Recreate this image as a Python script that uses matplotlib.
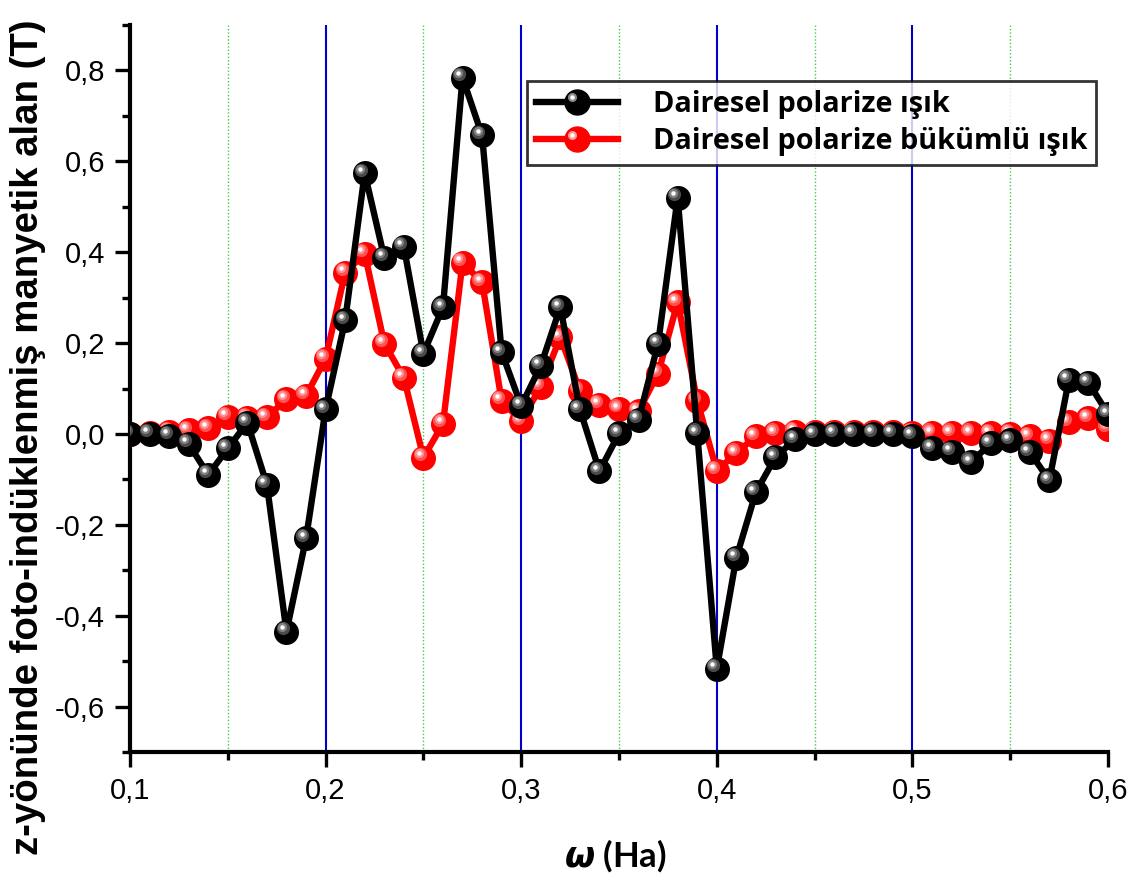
import numpy as np
import matplotlib
matplotlib.use("Agg")
import matplotlib.pyplot as plt
from matplotlib import transforms
from matplotlib.ticker import MultipleLocator, FuncFormatter
from matplotlib.lines import Line2D
from matplotlib.legend_handler import HandlerLine2D

# ---------------- data ----------------
omega = [0.10, 0.11, 0.12, 0.13, 0.14, 0.15, 0.16, 0.17, 0.18, 0.19,
         0.20, 0.21, 0.22, 0.23, 0.24, 0.25, 0.26, 0.27, 0.28, 0.29,
         0.30, 0.31, 0.32, 0.33, 0.34, 0.35, 0.36, 0.37, 0.38, 0.39,
         0.40, 0.41, 0.42, 0.43, 0.44, 0.45, 0.46, 0.47, 0.48, 0.49,
         0.50, 0.51, 0.52, 0.53, 0.54, 0.55, 0.56, 0.57, 0.58, 0.59, 0.60]

circular = [0.000, 0.000, -0.004, -0.022, -0.090, -0.032, 0.025, -0.112, -0.435, -0.230,
            0.054, 0.250, 0.574, 0.388, 0.412, 0.177, 0.279, 0.784, 0.657, 0.180,
            0.062, 0.150, 0.279, 0.054, -0.082, 0.001, 0.031, 0.199, 0.520, 0.002,
            -0.517, -0.272, -0.128, -0.051, -0.012, -0.001, 0.000, 0.000, 0.000, 0.000,
            -0.004, -0.032, -0.039, -0.062, -0.021, -0.014, -0.040, -0.102, 0.119, 0.113, 0.044]

twisted = [0.000, 0.001, 0.005, 0.008, 0.012, 0.038, 0.036, 0.037, 0.076, 0.084,
           0.166, 0.355, 0.397, 0.199, 0.124, -0.052, 0.022, 0.377, 0.334, 0.073,
           0.028, 0.104, 0.213, 0.095, 0.064, 0.055, 0.050, 0.133, 0.290, 0.073,
           -0.081, -0.042, -0.005, 0.002, 0.005, 0.005, 0.005, 0.005, 0.005, 0.004,
           0.003, 0.002, 0.002, 0.002, 0.001, 0.000, -0.005, -0.015, 0.026, 0.034, 0.011]

label_circular = "Dairesel polarize ışık"
label_twisted = "Dairesel polarize bükümlü ışık"
xlabel_sym = r"$\boldsymbol{\omega}$"
xlabel_txt = "(Ha)"
ylabel_txt = "z-yönünde foto-indüklenmiş manyetik alan (T)"

# ---------------- figure ----------------
plt.rcParams['font.family'] = ['Liberation Sans', 'DejaVu Sans']
plt.rcParams['mathtext.fontset'] = 'dejavusans'

W, H = 1146, 881
fig = plt.figure(figsize=(W / 100, H / 100), dpi=100)
ax = fig.add_axes([130 / W, 1 - 752 / H, (1108 - 130) / W, (752 - 25) / H])

ax.set_xlim(0.1, 0.6)
ax.set_ylim(-0.7, 0.9)

ax.xaxis.set_major_locator(MultipleLocator(0.1))
ax.xaxis.set_minor_locator(MultipleLocator(0.05))
ax.yaxis.set_major_locator(MultipleLocator(0.2))
ax.yaxis.set_minor_locator(MultipleLocator(0.1))

# vertical guide lines (blue at interior major ticks, green dotted at minor ticks)
x0, x1 = ax.get_xlim()
eps = 1e-6
for t in ax.xaxis.get_majorticklocs():
    if x0 + eps < t < x1 - eps:
        ax.axvline(t, color='#0000cc', lw=1.5, zorder=1)
for t in ax.xaxis.get_minorticklocs():
    if x0 + eps < t < x1 - eps and abs(round(t * 10) - t * 10) > 1e-3:
        ax.axvline(t, color='#44cc44', lw=1.0, ls=(0, (1, 1.5)), zorder=1)

MS = 18
LW = 4.6


def sphere_series(x, y, base, mid, light, z):
    ax.plot(x, y, '-', color=base, lw=LW, zorder=z, solid_capstyle='butt')
    ax.plot(x, y, 'o', ms=MS, mfc=base, mec=base, mew=0, zorder=z + 0.1)
    off1 = transforms.offset_copy(ax.transData, fig=fig, x=-2.6, y=2.6, units='points')
    off2 = transforms.offset_copy(ax.transData, fig=fig, x=-3.2, y=3.2, units='points')
    ax.plot(x, y, 'o', ms=9.5, mfc=mid, mec='none', alpha=0.55, transform=off1, zorder=z + 0.2)
    ax.plot(x, y, 'o', ms=6.5, mfc=mid, mec='none', alpha=0.9, transform=off2, zorder=z + 0.3)
    ax.plot(x, y, 'o', ms=3.2, mfc=light, mec='none', transform=off2, zorder=z + 0.4)


sphere_series(omega, twisted, '#ff0000', '#ff9a9a', '#ffffff', 3)
sphere_series(omega, circular, '#000000', '#8a8a8a', '#ffffff', 4)

# spines / ticks
for s in ['top', 'right']:
    ax.spines[s].set_visible(False)
for s in ['left', 'bottom']:
    ax.spines[s].set_linewidth(3.0)
ax.tick_params(which='major', direction='out', length=11, width=2.4, labelsize=21, pad=7)
ax.tick_params(which='minor', direction='out', length=6, width=2.4)

fmt = FuncFormatter(lambda v, p: ('%.1f' % v).replace('.', ',').replace('-0,0', '0,0'))
ax.xaxis.set_major_formatter(fmt)
ax.yaxis.set_major_formatter(fmt)

fig.text(28 / W, 1 - 437 / H, ylabel_txt, rotation=90, ha='center', va='center',
         fontsize=27.6, fontweight='bold')
fig.text(615 / W, 1 - 856 / H, xlabel_sym + " " + xlabel_txt, ha='center', va='center',
         fontsize=25, fontweight='bold', family=['Lato', 'DejaVu Sans'])


# legend with sphere-like handles
class SphereHandler(HandlerLine2D):
    def __init__(self, mid, light, **kw):
        super().__init__(**kw)
        self.mid = mid
        self.light = light

    def create_artists(self, legend, orig_handle, xdescent, ydescent, width, height,
                       fontsize, trans):
        arts = super().create_artists(legend, orig_handle, xdescent, ydescent,
                                      width, height, fontsize, trans)
        xc = width / 2 - xdescent
        yc = height / 2 - ydescent
        t2 = trans + transforms.ScaledTranslation(-3.2 / 72, 3.2 / 72, fig.dpi_scale_trans)
        hl1 = Line2D([xc], [yc], marker='o', ms=6.5, mfc=self.mid, mec='none', ls='none')
        hl2 = Line2D([xc], [yc], marker='o', ms=3.2, mfc=self.light, mec='none', ls='none')
        for a in (hl1, hl2):
            a.set_transform(t2)
            arts.append(a)
        return arts


h1 = Line2D([], [], color='#000000', lw=LW, marker='o', ms=MS, mfc='#000000', mec='#000000')
h2 = Line2D([], [], color='#ff0000', lw=LW, marker='o', ms=MS, mfc='#ff0000', mec='#ff0000')
leg = ax.legend([h1, h2], [label_circular, label_twisted], loc='upper left',
                bbox_to_anchor=((527 - 130) / 978, (752 - 81) / 727),
                frameon=True, fancybox=False, edgecolor='black',
                handlelength=2.85, handletextpad=1.2, borderpad=0.3, labelspacing=0.3,
                borderaxespad=0,
                handler_map={h1: SphereHandler('#8a8a8a', '#ffffff'),
                             h2: SphereHandler('#ff9a9a', '#ffffff')},
                prop={'family': ['Open Sans', 'DejaVu Sans'], 'weight': 'bold', 'size': 20.8})
leg.get_frame().set_linewidth(2.0)
leg.set_zorder(10)

fig.savefig('out.png', dpi=100)
